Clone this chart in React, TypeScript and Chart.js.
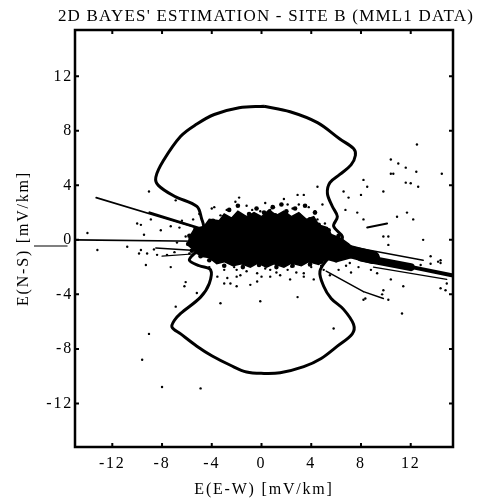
import React, { useEffect, useRef } from "react";
import { Chart, registerables } from "chart.js";

Chart.register(...registerables);

const TITLE = "2D BAYES' ESTIMATION - SITE B (MML1 DATA)";
const X_LABEL = "E(E-W) [mV/km]";
const Y_LABEL = "E(N-S) [mV/km]";
const TICK_VALUES = [-12, -8, -4, 0, 4, 8, 12];
const X_MIN = -15;
const X_MAX = 15.4;
const Y_MIN = -15.2;
const Y_MAX = 15.4;

// Closed boundary curve (x, y)
const boundary: number[][] = [
  [0.2, 9.8], [2.3, 9.4], [4.5, 8.6], [6.3, 7.4], [7.4, 6.7], [7.55, 6.2], [7.2, 5.5],
  [6.3, 4.8], [5.5, 4.2], [5.3, 3.4], [5.7, 2.45], [6.1, 1.7], [5.8, 1.0], [6.5, 0.25],
  [6.3, -0.25], [5.4, -1.3], [4.7, -2.3], [5.0, -3.4], [5.6, -4.3], [6.6, -5.1], [7.4, -6.2],
  [7.3, -6.9], [6.1, -7.8], [4.8, -8.7], [3.4, -9.3], [1.5, -9.75], [0.2, -9.8], [-1.2, -9.7],
  [-2.5, -9.2], [-4.0, -8.5], [-5.2, -7.8], [-6.5, -6.9], [-7.2, -6.4], [-7.0, -5.9], [-6.5, -5.4],
  [-4.9, -4.2], [-4.2, -3.2], [-4.1, -2.2], [-5.0, -1.9], [-5.8, -1.5], [-5.4, -1.0], [-4.8, -0.5],
  [-4.7, 0.3], [-4.65, 1.0], [-4.8, 1.5], [-5.2, 2.45], [-7.0, 3.2], [-8.3, 4.0], [-8.5, 4.6],
  [-7.9, 5.8], [-6.5, 7.6], [-5.2, 8.5], [-3.8, 9.2], [-1.8, 9.7], [0.2, 9.8],
];

// Outline of the dense (solid black) core of the estimate cloud
const coreOutline: number[][] = [
  [-5.8, 0.2], [-5.4, 0.8], [-4.6, 1.0], [-4.2, 1.5], [-3.4, 1.4], [-3.0, 1.9], [-2.4, 1.6],
  [-1.9, 2.1], [-1.2, 1.7], [-0.6, 2.0], [0.0, 1.7], [0.6, 2.2], [1.2, 1.8], [1.8, 2.1],
  [2.4, 1.7], [3.0, 2.0], [3.6, 1.5], [4.2, 1.7], [4.6, 1.1], [5.3, 0.9], [5.6, 0.4],
  [6.4, 0.1], [7.0, -0.3], [7.5, -0.7], [7.6, -1.2], [6.8, -1.4], [6.0, -1.6], [5.2, -1.4],
  [4.6, -1.8], [3.8, -1.6], [3.2, -1.9], [2.4, -1.7], [1.8, -2.0], [1.0, -1.75], [0.4, -2.0],
  [-0.3, -1.7], [-0.9, -2.0], [-1.6, -1.75], [-2.3, -1.9], [-3.0, -1.6], [-3.6, -1.75],
  [-4.2, -1.3], [-4.9, -1.2], [-5.4, -0.8], [-5.9, -0.4], [-5.8, 0.2],
];

// Streaks: [x1, y1, x2, y2, width]
const streaks: number[][] = [
  [-15, 0.0, -5.0, -0.1, 1.6],
  [-13.3, 3.1, -4.6, 0.7, 1.6],
  [-9.0, 2.0, -4.6, 0.75, 2.5],
  [6.0, -0.6, 9.0, -1.3, 13],
  [8.0, -1.3, 12.0, -2.0, 8],
  [11.0, -1.8, 15.3, -2.6, 4],
  [6.0, -0.3, 13.0, -1.5, 1.5],
  [9.0, -2.0, 14.9, -2.9, 1.2],
  [5.2, -2.3, 8.2, -3.8, 1.5],
  [8.2, -3.8, 9.8, -4.3, 1.5],
  [8.5, 0.9, 10.1, 1.2, 2],
  [-8.5, -0.6, -5.0, -0.8, 1.5],
  [-8.0, -1.2, -5.0, -1.0, 1.2],
];

// Line outside the frame near the "0" label
const outsideLine: number[][] = [[-18.3, -0.45], [-15.6, -0.45]];

// Ragged fringe of the core
const edgeBlobs: number[][] = [
  [-3.9, 1.4], [-3.0, 1.7], [-1.0, 1.9], [0.2, 2.0], [1.1, 1.8], [2.0, 2.1], [3.0, 1.8],
  [3.9, 1.5], [4.6, 1.1], [-5.3, 0.8], [-5.8, 0.3], [-5.9, -0.3], [-5.6, -0.8], [-4.9, -1.2],
  [-4.2, -1.5], [-3.0, -1.9], [-1.5, -2.0], [-0.2, -1.85], [1.2, -2.0], [2.5, -1.9],
  [3.9, -1.8], [4.8, -1.6], [6.0, -1.5], [-2.6, 2.2], [0.9, 2.4], [2.7, 2.3], [4.3, 2.0],
  [5.4, 0.7], [6.2, 0.3], [-1.9, 2.5], [-0.4, 2.3], [1.6, 2.6], [3.5, 2.5],
];

// Scattered single estimates
const dots: number[][] = [
  [-9.05, 3.55], [-6.9, 2.9], [-4.0, 2.3], [-3.3, 1.8], [-2.1, 2.8], [-0.75, 2.2], [-0.1, 2.1],
  [0.7, 2.2], [1.3, 1.7], [2.1, 2.6], [2.9, 3.3], [3.4, 3.3], [4.3, 2.1], [4.5, 3.9], [4.9, 2.6],
  [6.6, 3.55], [7.0, 3.1], [8.0, 3.3], [8.2, 4.4], [8.5, 3.9], [6.75, 2.2], [7.7, 2.0],
  [-10, 1.2], [-8.9, 1.5], [-9.45, 0.37], [-8.1, 0.7], [-7.3, 1.0], [-6.1, 0.25], [-9.85, -1.0],
  [-8.65, -0.7], [-7.6, -1.1],
  [12.5, 7.0], [10.4, 5.9], [11.0, 5.6], [11.6, 5.3], [12.45, 5.0], [14.5, 4.85], [10.4, 4.85],
  [10.6, 4.85], [11.6, 4.2], [12.0, 4.15], [12.6, 3.9], [9.8, 3.55], [11.7, 2.0], [9.8, 0.25],
  [10.2, 0.25], [10.2, -0.37], [14.2, -1.6], [13.6, -1.75], [12.8, -1.85], [9.8, -3.7],
  [9.7, -4.0], [10.2, -4.4], [14.4, -3.55], [14.8, -3.7], [11.3, -5.4],
  [-9.3, -1.85], [-9.05, -6.9], [-9.6, -8.8], [-8.0, -10.8], [-4.9, -10.9], [-6.2, -3.4],
  [-6.1, -3.1], [-5.2, -3.9], [-6.9, -4.9], [-3.3, -4.65], [-0.1, -4.5], [-2.0, -3.4],
  [-2.5, -3.2], [-0.9, -3.3], [-0.35, -3.05], [2.9, -4.2], [5.8, -6.5], [8.2, -4.4], [8.35, -4.3],
  [-3.55, -2.7], [-2.75, -2.8], [-1.7, -2.6], [-0.35, -2.45], [0.7, -2.2], [1.5, -2.6],
  [2.1, -2.2], [3.4, -2.45],
  [-9.7, 1.1], [-14, 0.5], [-13.2, -0.74], [-10.8, -0.5], [-9.7, -0.74], [-9.2, -1.0],
  [-8.4, -1.1], [-7.3, -2.0], [-3.0, -3.2], [-2.0, -2.7], [0.7, -2.7], [2.3, -2.9], [3.4, -2.7],
  [4.2, -2.9], [7.1, -1.7], [8.2, -1.5], [9.3, -2.45], [10.4, -2.9], [11.4, -3.4], [14.4, -1.7],
  [14.9, -3.2], [13.6, -1.2], [8.2, 1.5], [10.9, 1.7], [12.2, 1.5], [13, 0], [14.4, -1.5],
  [-5.5, 1.5], [-5.0, 1.9], [-3.8, 2.4], [-2.8, 2.2], [-1.2, 2.5], [0.3, 2.7], [1.0, 2.4],
  [2.5, 2.3], [3.8, 2.4], [4.5, 1.5], [5.1, 1.2], [-5.8, -1.0],
  [-3.0, -2.2], [-2.2, -2.0], [-1.2, -2.3], [0.0, -2.7], [1.2, -2.4], [2.8, -2.4], [4.0, -2.0],
  [4.8, -1.9], [5.5, -2.6], [6.2, -2.2], [7.2, -2.4], [7.8, -2.0], [8.8, -2.2],
  [-6.6, 0.9], [-6.8, -0.2], [-7.0, -0.9], [-6.4, 1.4], [-1.8, 3.1], [1.8, 3.0], [3.0, 2.6],
  [-4.2, -2.0], [-2.0, -2.2], [0.3, -2.1], [2.4, -1.95], [5.0, -2.2], [6.8, -1.9],
];

const SERIF = "'Liberation Serif', 'Times New Roman', serif";
const LETTER_SPACING = "1.8px";

const pts = (arr: number[][]) => arr.map(([x, y]) => ({ x, y }));

const spacingPlugin = {
  id: "letterSpacing",
  beforeInit(chart: any) {
    chart.ctx.letterSpacing = LETTER_SPACING;
  },
  beforeLayout(chart: any) {
    chart.ctx.letterSpacing = LETTER_SPACING;
  },
  beforeDraw(chart: any) {
    chart.ctx.letterSpacing = LETTER_SPACING;
  },
};

const framePlugin = {
  id: "frameTicks",
  afterDatasetsDraw(chart: any) {
    const { ctx, chartArea, scales } = chart;
    const { left, right, top, bottom } = chartArea;
    ctx.save();
    ctx.strokeStyle = "#000";
    ctx.lineWidth = 2.5;
    ctx.strokeRect(left, top, right - left, bottom - top);
    ctx.lineWidth = 2;
    const len = 4;
    ctx.beginPath();
    scales.x.ticks.forEach((t: any) => {
      const px = scales.x.getPixelForValue(t.value);
      ctx.moveTo(px, bottom);
      ctx.lineTo(px, bottom - len);
      ctx.moveTo(px, top);
      ctx.lineTo(px, top + len);
    });
    scales.y.ticks.forEach((t: any) => {
      const py = scales.y.getPixelForValue(t.value);
      ctx.moveTo(left, py);
      ctx.lineTo(left + len, py);
      ctx.moveTo(right, py);
      ctx.lineTo(right - len, py);
    });
    ctx.stroke();
    // chart title, slightly wider than the plot area (as in the original)
    ctx.fillStyle = "#000";
    ctx.font = `17px ${SERIF}`;
    ctx.letterSpacing = "1.2px";
    ctx.textAlign = "center";
    ctx.textBaseline = "alphabetic";
    ctx.fillText(TITLE, (left + right) / 2 + 2, 21);
    ctx.restore();
  },
};

export default function App() {
  const ref = useRef<HTMLCanvasElement | null>(null);

  useEffect(() => {
    if (!ref.current) return;
    const lineDs = (data: any[], width: number, extra: any = {}) => ({
      type: "scatter",
      data,
      showLine: true,
      borderColor: "#000",
      backgroundColor: "#000",
      borderWidth: width,
      pointRadius: 0,
      pointHoverRadius: 0,
      ...extra,
    });

    const datasets: any[] = [];
    datasets.push(lineDs(pts(coreOutline), 1.5, { fill: "shape", backgroundColor: "#000" }));
    streaks.forEach(([x1, y1, x2, y2, w]) => {
      datasets.push(lineDs(pts([[x1, y1], [x2, y2]]), w, { borderCapStyle: "round" }));
    });
    datasets.push(lineDs(pts(outsideLine), 1.2, { clip: false }));
    datasets.push({
      type: "scatter",
      data: pts(edgeBlobs),
      pointRadius: 2.3,
      pointBackgroundColor: "#000",
      pointBorderWidth: 0,
    });
    datasets.push({
      type: "scatter",
      data: pts(dots),
      pointRadius: 1.2,
      pointBackgroundColor: "#000",
      pointBorderWidth: 0,
    });
    datasets.push(lineDs(pts(boundary), 3, { tension: 0.35, borderJoinStyle: "round" }));

    const chart = new Chart(ref.current, {
      type: "scatter",
      data: { datasets },
      plugins: [spacingPlugin, framePlugin],
      options: {
        responsive: false,
        animation: false,
        devicePixelRatio: 1,
        layout: { padding: { left: 0, right: 27, top: 30, bottom: 0 } },
        plugins: {
          legend: { display: false },
          tooltip: { enabled: false },
          title: { display: false },
        },
        scales: {
          x: {
            type: "linear",
            min: X_MIN,
            max: X_MAX,
            grid: { display: false, drawTicks: false },
            border: { display: false },
            afterBuildTicks: (s: any) => {
              s.ticks = TICK_VALUES.map((v) => ({ value: v }));
            },
            afterFit: (s: any) => {
              s.height = 54;
            },
            ticks: {
              color: "#000",
              padding: 7,
              maxRotation: 0,
              font: { family: SERIF, size: 16 },
              callback: (v: any) => String(v),
            },
            title: {
              display: true,
              text: X_LABEL,
              color: "#000",
              font: { family: SERIF, size: 16 },
              padding: { top: 0, bottom: 2 },
            },
          },
          y: {
            type: "linear",
            min: Y_MIN,
            max: Y_MAX,
            grid: { display: false, drawTicks: false },
            border: { display: false },
            afterBuildTicks: (s: any) => {
              s.ticks = TICK_VALUES.map((v) => ({ value: v }));
            },
            afterFit: (s: any) => {
              s.width = 75;
            },
            ticks: {
              color: "#000",
              padding: 2,
              font: { family: SERIF, size: 16 },
              callback: (v: any) => String(v),
            },
            title: {
              display: true,
              text: Y_LABEL,
              color: "#000",
              font: { family: SERIF, size: 16 },
              padding: { top: 14, bottom: 0 },
            },
          },
        },
      },
    } as any);
    return () => chart.destroy();
  }, []);

  return (
    <div style={{ position: "absolute", left: 0, top: 0, width: 480, height: 501, background: "#fff" }}>
      <canvas ref={ref} width={480} height={501} style={{ width: 480, height: 501, display: "block" }} />
    </div>
  );
}
